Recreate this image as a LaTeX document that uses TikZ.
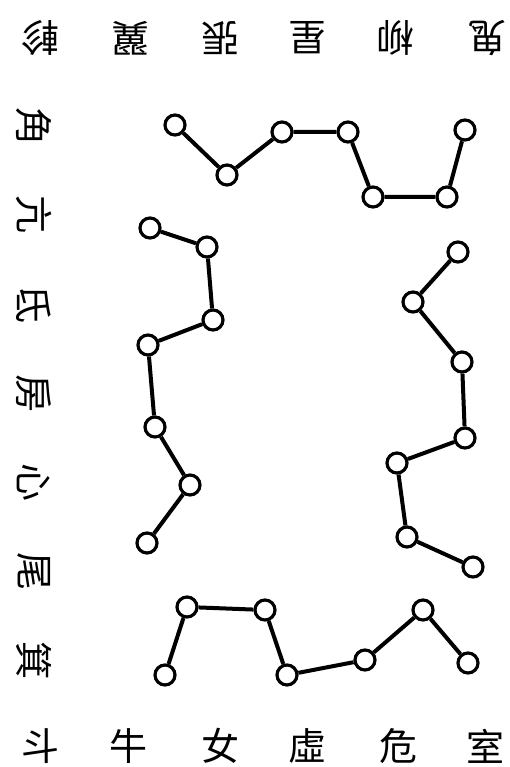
\documentclass[tikz,border=0pt]{standalone}
\usepackage{fontspec}
\newfontfamily\cjk{Noto Sans CJK TC}

\tikzset{
  star/.style={circle,draw,line width=3.2pt,minimum size=20pt,inner sep=0pt,fill=white},
  link/.style={line width=4pt},
  lbl/.style={font=\cjk\fontsize{38}{38}\selectfont,inner sep=0pt}
}

\begin{document}
\begin{tikzpicture}[x=1pt,y=-1pt]
    \useasboundingbox (0,0) rectangle (509,767);

    % lunar mansions round the edge
    \foreach \c/\x [count=\i] in {軫/40,翼/130,張/220,星/307,柳/395,鬼/487}
        \node[lbl,rotate=180] (top\i) at (\x,38) {\c};
    \foreach \c/\y [count=\i] in {角/127,亢/215,氐/304,房/393,心/482,尾/571,箕/660}
        \node[lbl,rotate=-90] (left\i) at (34,\y) {\c};
    \foreach \c/\x [count=\i] in {斗/40,牛/128,女/220,虛/307,危/398,室/485}
        \node[lbl] (bot\i) at (\x,746) {\c};

    % star chains
    \foreach \x/\y [count=\i] in {175/125,227/175,282/132,348/132,373/197,447/197,465/130}
        \node[star] (n\i) at (\x,\y) {};
    \foreach \x/\y [count=\i] in {150/228,207/247,213/320,148/345,155/427,190/485,147/543}
        \node[star] (w\i) at (\x,\y) {};
    \foreach \x/\y [count=\i] in {458/252,413/302,462/362,465/438,397/463,407/537,473/567}
        \node[star] (e\i) at (\x,\y) {};
    \foreach \x/\y [count=\i] in {165/675,187/607,265/610,287/675,365/660,423/610,468/663}
        \node[star] (s\i) at (\x,\y) {};

    \draw[link] (n1) -- (n2) -- (n3) -- (n4) -- (n5) -- (n6) -- (n7);
    \draw[link] (w1) -- (w2) -- (w3) -- (w4) -- (w5) -- (w6) -- (w7);
    \draw[link] (e1) -- (e2) -- (e3) -- (e4) -- (e5) -- (e6) -- (e7);
    \draw[link] (s1) -- (s2) -- (s3) -- (s4) -- (s5) -- (s6) -- (s7);
\end{tikzpicture}
\end{document}
